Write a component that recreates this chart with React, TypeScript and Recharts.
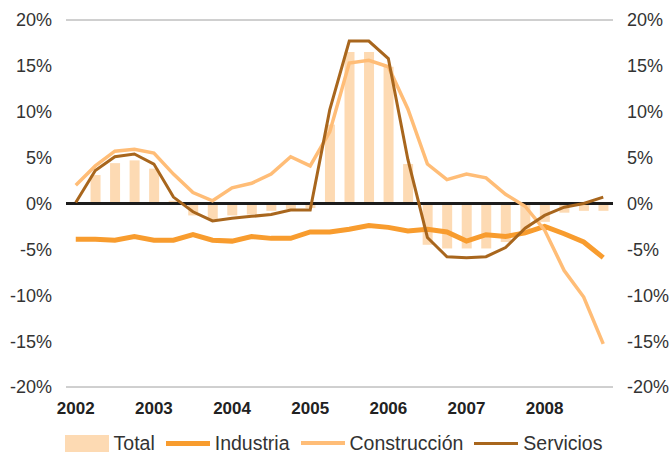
import React from "react";
import {
  ComposedChart,
  Bar,
  Line,
  XAxis,
  YAxis,
  CartesianGrid,
  ReferenceLine,
} from "recharts";

// trimestres 2002T1 .. 2008T4
const quarters = [
  "2002T1", "2002T2", "2002T3", "2002T4",
  "2003T1", "2003T2", "2003T3", "2003T4",
  "2004T1", "2004T2", "2004T3", "2004T4",
  "2005T1", "2005T2", "2005T3", "2005T4",
  "2006T1", "2006T2", "2006T3", "2006T4",
  "2007T1", "2007T2", "2007T3", "2007T4",
  "2008T1", "2008T2", "2008T3", "2008T4",
];

const yearTicks = ["2002T1", "2003T1", "2004T1", "2005T1", "2006T1", "2007T1", "2008T1"];

const total = [null, 3.1, 4.4, 4.7, 3.8, 0.3, -1.3, -1.8, -1.3, -1.2, -0.8, -0.6, -0.5, 8.6, 16.5, 16.5, 14.9, 4.3, -4.5, -4.9, -4.9, -4.9, -4.2, -2.9, -2.0, -1.0, -0.8, -0.8];
const industria = [-3.9, -3.9, -4.0, -3.6, -4.0, -4.0, -3.4, -4.0, -4.1, -3.6, -3.8, -3.8, -3.1, -3.1, -2.8, -2.4, -2.6, -3.0, -2.8, -3.1, -4.1, -3.4, -3.6, -3.2, -2.5, -3.3, -4.2, -5.9];
const construccion = [2.0, 4.1, 5.7, 5.9, 5.5, 3.2, 1.2, 0.3, 1.7, 2.2, 3.2, 5.1, 4.1, 7.8, 15.3, 15.6, 14.9, 10.3, 4.3, 2.6, 3.2, 2.8, 1.0, -0.3, -2.9, -7.3, -10.2, -15.3];
const servicios = [0.1, 3.6, 5.1, 5.4, 4.3, 0.7, -0.9, -1.9, -1.6, -1.4, -1.2, -0.7, -0.7, 10.2, 17.7, 17.7, 15.8, 4.8, -3.7, -5.8, -5.9, -5.8, -4.8, -2.7, -1.3, -0.4, 0.0, 0.7];

const yTicks = [-20, -15, -10, -5, 0, 5, 10, 15, 20];

const data = quarters.map((q, i) => ({
  q,
  total: total[i],
  industria: industria[i],
  construccion: construccion[i],
  servicios: servicios[i],
}));

const C_TOTAL = "#fddab3";
const C_IND = "#f89c2e";
const C_CONS = "#ffbd77";
const C_SERV = "#a8661d";

const font = "'Liberation Sans', Arial, sans-serif";

const legendItems = [
  { label: "Total", color: C_TOTAL, kind: "bar" },
  { label: "Industria", color: C_IND, kind: "line", w: 5 },
  { label: "Construcción", color: C_CONS, kind: "line", w: 3.5 },
  { label: "Servicios", color: C_SERV, kind: "line", w: 3 },
];

export default function App() {
  return (
    <div style={{ position: "absolute", left: 0, top: 0, width: 672, height: 455, background: "#fff", fontFamily: font }}>
      <ComposedChart
        width={672}
        height={455}
        data={data}
        margin={{ top: 20, right: 0, bottom: 38, left: 0 }}
        barCategoryGap={0}
      >
        <CartesianGrid vertical={false} stroke="#a0a0a0" strokeWidth={1} />
        <XAxis
          dataKey="q"
          ticks={yearTicks}
          interval={0}
          tickFormatter={(v: string) => v.slice(0, 4)}
          axisLine={false}
          tickLine={false}
          tickSize={0}
          tickMargin={15}
          height={30}
          tick={{ fill: "#222", fontSize: 17, fontWeight: 700, fontFamily: font }}
        />
        <YAxis
          yAxisId="left"
          domain={[-20, 20]}
          ticks={yTicks}
          tickFormatter={(v: number) => `${v}%`}
          axisLine={false}
          tickLine={false}
          tickSize={0}
          tickMargin={14}
          width={66}
          tick={{ fill: "#333", fontSize: 18, fontFamily: font }}
        />
        <YAxis
          yAxisId="right"
          orientation="right"
          domain={[-20, 20]}
          ticks={yTicks}
          tickFormatter={(v: number) => `${v}%`}
          axisLine={false}
          tickLine={false}
          tickSize={0}
          tickMargin={14}
          width={59}
          tick={{ fill: "#333", fontSize: 18, fontFamily: font, textAnchor: "start" }}
        />
        <Bar yAxisId="left" dataKey="total" fill={C_TOTAL} barSize={10} isAnimationActive={false} />
        <ReferenceLine yAxisId="left" y={0} stroke="#1c1c1c" strokeWidth={3} />
        <Line yAxisId="left" type="linear" dataKey="industria" stroke={C_IND} strokeWidth={5} dot={false} isAnimationActive={false} />
        <Line yAxisId="left" type="linear" dataKey="construccion" stroke={C_CONS} strokeWidth={3.5} dot={false} isAnimationActive={false} />
        <Line yAxisId="right" type="linear" dataKey="servicios" stroke={C_SERV} strokeWidth={3} dot={false} isAnimationActive={false} />
      </ComposedChart>
      <div
        style={{
          position: "absolute",
          left: 3,
          top: 432,
          width: 672,
          display: "flex",
          justifyContent: "center",
          alignItems: "center",
          fontSize: 19.5,
          color: "#333",
          lineHeight: "22px",
        }}
      >
        {legendItems.map((it) => (
          <div key={it.label} style={{ display: "flex", alignItems: "center", marginRight: 11 }}>
            {it.kind === "bar" ? (
              <div style={{ width: 44, height: 17, background: it.color, marginRight: 5 }} />
            ) : (
              <div style={{ width: 44, height: it.w, background: it.color, marginRight: 5 }} />
            )}
            <span>{it.label}</span>
          </div>
        ))}
      </div>
    </div>
  );
}
